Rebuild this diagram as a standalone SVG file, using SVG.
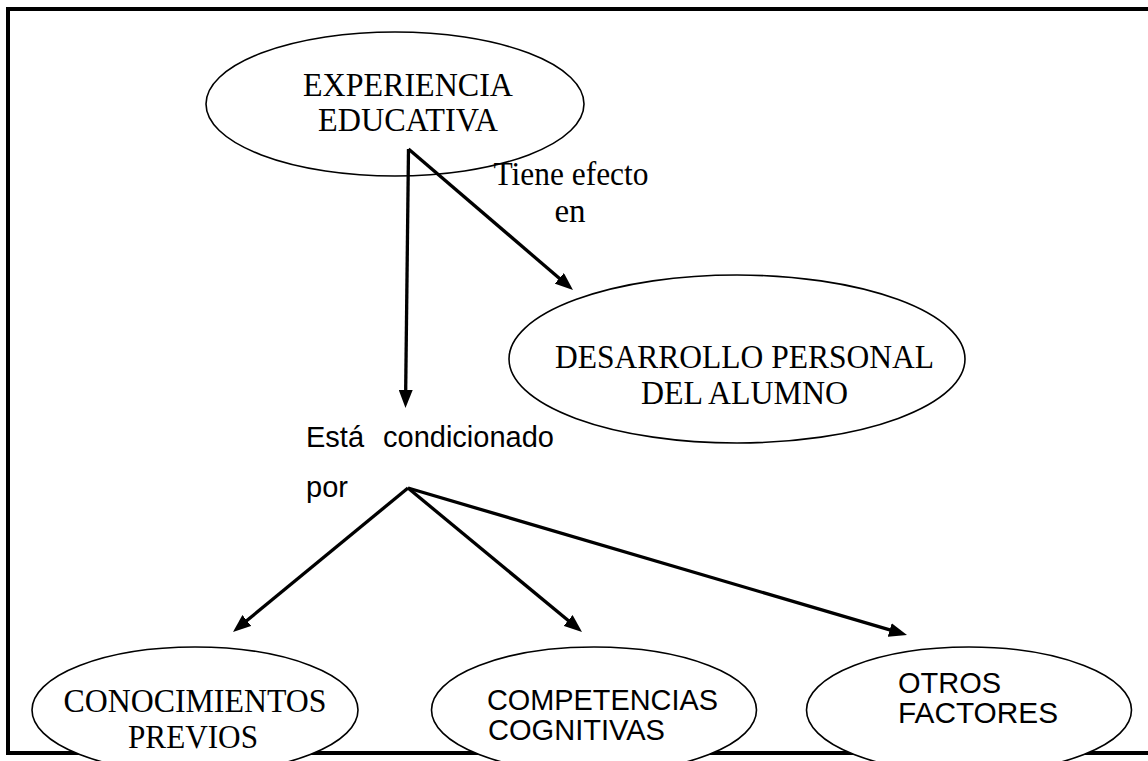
<svg xmlns="http://www.w3.org/2000/svg" width="1148" height="761" viewBox="0 0 1148 761">
<style>
.bg{fill:#ffffff}
.frame{fill:none;stroke:#000;stroke-width:4}
.node ellipse{fill:#ffffff;stroke:#000;stroke-width:1.6}
.serif{font-family:"Liberation Serif","Times New Roman",serif;font-size:33px;fill:#000}
.sans{font-family:"Liberation Sans",Arial,sans-serif;font-size:29px;fill:#000}
.conn line{stroke:#000;stroke-width:3.3;fill:none;marker-end:url(#arrow)}
</style>
<defs>
<marker id="arrow" markerUnits="userSpaceOnUse" viewBox="0 0 18 14" markerWidth="18" markerHeight="14" refX="8" refY="7" orient="auto">
<path d="M0,0 L18,7 L0,14 z" fill="#000"/>
</marker>
</defs>
<rect class="bg" x="0" y="0" width="1148" height="761"/>
<path class="frame" d="M1150,9 L8,9 L8,753 L1150,753"/>

<g id="experiencia" class="node">
<ellipse cx="395" cy="104" rx="189" ry="72"/>
<text class="serif" x="408" y="96" text-anchor="middle" textLength="210" lengthAdjust="spacingAndGlyphs">EXPERIENCIA</text>
<text class="serif" x="408" y="131" text-anchor="middle" textLength="180" lengthAdjust="spacingAndGlyphs">EDUCATIVA</text>
</g>

<g id="desarrollo" class="node">
<ellipse cx="737" cy="359" rx="228" ry="84"/>
<text class="serif" x="744.5" y="368" text-anchor="middle" textLength="379" lengthAdjust="spacingAndGlyphs">DESARROLLO PERSONAL</text>
<text class="serif" x="744.5" y="404" text-anchor="middle" textLength="207" lengthAdjust="spacingAndGlyphs">DEL ALUMNO</text>
</g>

<g id="conocimientos" class="node">
<ellipse cx="195" cy="710" rx="163" ry="63"/>
<text class="serif" x="195" y="712" text-anchor="middle" textLength="263" lengthAdjust="spacingAndGlyphs">CONOCIMIENTOS</text>
<text class="serif" x="193" y="748" text-anchor="middle" textLength="130" lengthAdjust="spacingAndGlyphs">PREVIOS</text>
</g>

<g id="competencias" class="node">
<ellipse cx="594" cy="710" rx="162.5" ry="63"/>
<text class="sans" x="487" y="710" textLength="231" lengthAdjust="spacingAndGlyphs">COMPETENCIAS</text>
<text class="sans" x="488" y="740" textLength="177" lengthAdjust="spacingAndGlyphs">COGNITIVAS</text>
</g>

<g id="otros" class="node">
<ellipse cx="969" cy="710" rx="162.5" ry="63"/>
<text class="sans" x="898" y="693" textLength="103" lengthAdjust="spacingAndGlyphs">OTROS</text>
<text class="sans" x="898" y="723" textLength="160" lengthAdjust="spacingAndGlyphs">FACTORES</text>
</g>

<g id="connectors" class="conn">
<line x1="408.5" y1="149" x2="405.6" y2="398"/>
<line x1="408.5" y1="149" x2="565.4" y2="283.5"/>
<line x1="408" y1="488" x2="240.7" y2="625.6"/>
<line x1="408" y1="488" x2="574.3" y2="625.6"/>
<line x1="408" y1="488" x2="897.4" y2="632.2"/>
</g>

<g id="labels">
<text class="serif" x="571" y="185" text-anchor="middle" textLength="155" lengthAdjust="spacingAndGlyphs">Tiene efecto</text>
<text class="serif" x="570" y="222" text-anchor="middle">en</text>
<text class="sans"><tspan x="306" y="447">Está</tspan><tspan x="383" y="447">condicionado</tspan></text>
<text class="sans" x="306" y="497">por</text>
</g>
</svg>
